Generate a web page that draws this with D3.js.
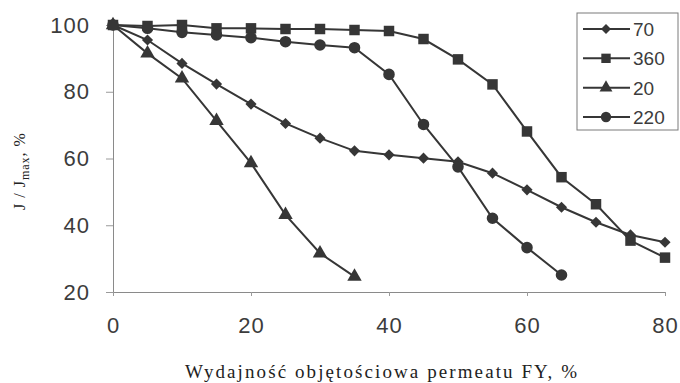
<!DOCTYPE html>
<html>
<head>
<meta charset="utf-8">
<script src="https://cdn.jsdelivr.net/npm/d3@7"></script>
<style>
  body { margin: 0; background: #fff; }
  svg { display: block; }
</style>
</head>
<body>
<div id="chart"></div>
<script>
const xs = [0, 5, 10, 15, 20, 25, 30, 35, 40, 45, 50, 55, 60, 65, 70, 75, 80];
const s70 = [100, 95.5, 88.5, 82.3, 76.3, 70.5, 66.1, 62.3, 61.1, 60.1, 59, 55.6, 50.6, 45.4, 40.9, 37.1, 34.9];
const s360 = [100, 99.7, 100, 99, 99, 98.8, 98.8, 98.5, 98.2, 95.8, 89.7, 82.2, 68.1, 54.4, 46.3, 35.4, 30.3];
const s20 = [100, 91.5, 84, 71.3, 58.6, 43.1, 31.6, 24.6];
const s220 = [100, 99, 97.8, 97, 96.2, 95, 94, 93.2, 85.2, 70.2, 57.5, 42.1, 33.3, 25.1];
const seriesNames = ["70", "360", "20", "220"];
const xTicks = [0, 20, 40, 60, 80];
const yTicks = [20, 40, 60, 80, 100];

const series = [
  { name: "70", vals: s70, sym: d3.symbolSquare, size: 62, rot: 45 },
  { name: "360", vals: s360, sym: d3.symbolSquare, size: 110, rot: 0 },
  { name: "20", vals: s20, sym: d3.symbolTriangle, size: 90, rot: 0 },
  { name: "220", vals: s220, sym: d3.symbolCircle, size: 105, rot: 0 }
].map(s => ({ ...s, data: s.vals.map((v, i) => ({ x: xs[i], y: v })) }));

const svg = d3.select("#chart").append("svg")
  .attr("width", 680)
  .attr("height", 383);

const x = d3.scaleLinear().domain([0, 80]).range([113, 665]);
const y = d3.scaleLinear().domain([20, 100]).range([292, 25]);

const ink = "#363636";

// axes
const yAxis = svg.append("g").attr("transform", "translate(113,0)")
  .call(d3.axisLeft(y).tickValues(yTicks).tickSize(7).tickPadding(16));
const xAxis = svg.append("g").attr("transform", "translate(0,292)")
  .call(d3.axisBottom(x).tickValues(xTicks).tickSize(4).tickPadding(21));

[yAxis, xAxis].forEach(a => {
  a.select(".domain").attr("stroke", "#8a8a8a");
  a.selectAll(".tick line").attr("stroke", "#9a9a9a");
  a.selectAll(".tick text")
    .attr("fill", "#3c3c3c")
    .style("font-family", "'Liberation Sans', Arial, sans-serif")
    .style("font-size", "22px")
    .style("letter-spacing", "1px");
});

// lines and markers
const line = d3.line().x(d => x(d.x)).y(d => y(d.y));

series.forEach(s => {
  svg.append("path")
    .datum(s.data)
    .attr("fill", "none")
    .attr("stroke", ink)
    .attr("stroke-width", 2)
    .attr("d", line);
});

series.forEach(s => {
  svg.append("g").selectAll("path")
    .data(s.data)
    .join("path")
    .attr("transform", d => `translate(${x(d.x)},${y(d.y)}) rotate(${s.rot})`)
    .attr("d", d3.symbol(s.sym, s.size))
    .attr("fill", ink);
});

// legend
const lg = svg.append("g");
lg.append("rect")
  .attr("x", 577).attr("y", 13)
  .attr("width", 101).attr("height", 117)
  .attr("fill", "#fff")
  .attr("stroke", "#7a7a7a");

const legendY = d3.scalePoint().domain(seriesNames).range([29, 117]);
series.forEach(s => {
  const ly = legendY(s.name);
  lg.append("line")
    .attr("x1", 583).attr("x2", 630)
    .attr("y1", ly).attr("y2", ly)
    .attr("stroke", ink).attr("stroke-width", 2);
  lg.append("path")
    .attr("transform", `translate(606,${ly}) rotate(${s.rot})`)
    .attr("d", d3.symbol(s.sym, s.size * 0.8))
    .attr("fill", ink);
  lg.append("text")
    .attr("x", 633).attr("y", ly + 7)
    .attr("fill", "#3c3c3c")
    .style("font-family", "'Liberation Sans', Arial, sans-serif")
    .style("font-size", "19px")
    .text(s.name);
});

// axis titles
svg.append("text")
  .attr("x", 381).attr("y", 378)
  .attr("text-anchor", "middle")
  .attr("fill", "#222")
  .attr("textLength", 392)
  .attr("lengthAdjust", "spacing")
  .style("font-family", "'Liberation Serif', 'Times New Roman', serif")
  .style("font-size", "19px")
  .text("Wydajność objętościowa permeatu FY, %");

const yt = svg.append("text")
  .attr("transform", "translate(25,171) rotate(-90)")
  .attr("text-anchor", "middle")
  .attr("fill", "#222")
  .style("font-family", "'Liberation Serif', 'Times New Roman', serif")
  .style("font-size", "16px")
  .style("letter-spacing", "1px");
yt.append("tspan").text("J / J");
yt.append("tspan").attr("dy", 4).style("font-size", "12px").text("max");
yt.append("tspan").attr("dy", -4).text(", %");
</script>
</body>
</html>
